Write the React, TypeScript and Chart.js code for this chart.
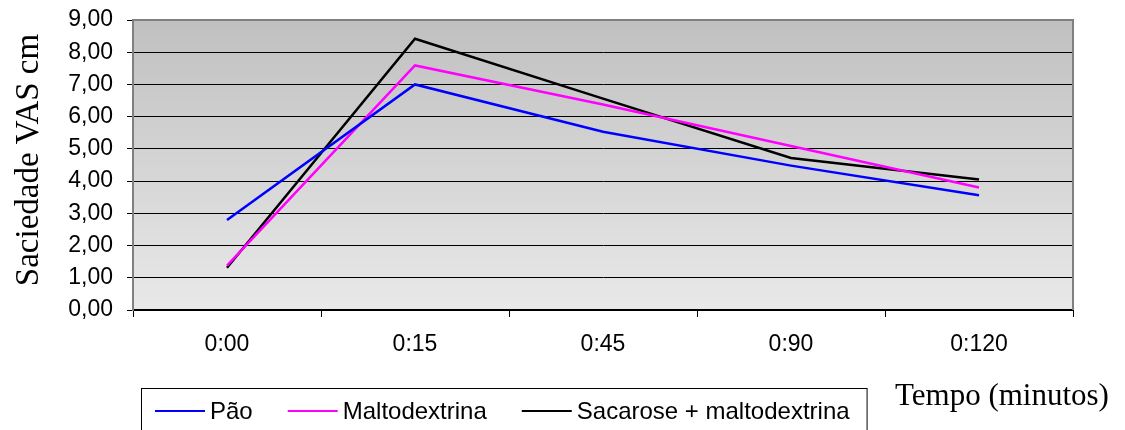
import React, { useEffect, useRef } from "react";
import { Chart, registerables } from "chart.js";

Chart.register(...registerables);

const categories = ["0:00", "0:15", "0:45", "0:90", "0:120"];
const paoValues = [2.79, 7.0, 5.53, 4.48, 3.56];
const maltoValues = [1.38, 7.59, 6.38, 5.09, 3.8];
const sacaroseValues = [1.31, 8.42, 6.56, 4.72, 4.05];
const seriesLabels = ["Pão", "Maltodextrina", "Sacarose + maltodextrina"];
const seriesColors = ["#0000ff", "#ff00ff", "#000000"];
const yTitle = "Saciedade VAS cm";
const xTitle = "Tempo (minutos)";

const SANS = "'Liberation Sans', Arial, sans-serif";
const SERIF = "'Liberation Serif', 'Times New Roman', serif";

const decorPlugin = {
  id: "decor",
  beforeDraw(chart: any) {
    const { ctx, chartArea } = chart;
    const { left, top, right, bottom } = chartArea;
    const g = ctx.createLinearGradient(0, top, 0, bottom);
    g.addColorStop(0, "#c0c0c0");
    g.addColorStop(1, "#e9e9e9");
    ctx.save();
    ctx.fillStyle = g;
    ctx.fillRect(left, top, right - left, bottom - top);
    ctx.restore();
  },
  beforeDatasetsDraw(chart: any) {
    const { ctx, chartArea } = chart;
    const { left, top, right, bottom } = chartArea;
    ctx.save();
    ctx.strokeStyle = "#808080";
    ctx.lineWidth = 2;
    ctx.beginPath();
    ctx.moveTo(left, top);
    ctx.lineTo(right, top);
    ctx.lineTo(right, bottom);
    ctx.stroke();
    ctx.restore();
  },
  afterDraw(chart: any) {
    const { ctx } = chart;
    ctx.save();
    ctx.fillStyle = "#000";
    ctx.font = `33px ${SERIF}`;
    ctx.translate(37.5, 160);
    ctx.rotate(-Math.PI / 2);
    ctx.textAlign = "center";
    ctx.textBaseline = "alphabetic";
    ctx.fillText(yTitle, 0, 0);
    ctx.restore();

    ctx.save();
    ctx.fillStyle = "#000";
    ctx.font = `31px ${SERIF}`;
    ctx.textAlign = "left";
    ctx.textBaseline = "alphabetic";
    ctx.fillText(xTitle, 895, 405);
    ctx.restore();

    ctx.save();
    ctx.font = `24px ${SANS}`;
    const boxLeft = 141;
    const boxTop = 388;
    const lineY = 411;
    let x = 155;
    chart.data.datasets.forEach((ds: any, i: number) => {
      ctx.strokeStyle = ds.borderColor;
      ctx.lineWidth = 2;
      ctx.beginPath();
      ctx.moveTo(x, lineY);
      ctx.lineTo(x + 50, lineY);
      ctx.stroke();
      x += 55;
      ctx.fillStyle = "#000";
      ctx.textAlign = "left";
      ctx.textBaseline = "middle";
      ctx.fillText(ds.label, x, lineY + 1);
      x += ctx.measureText(ds.label).width;
      if (i < chart.data.datasets.length - 1) x += 35;
    });
    const boxRight = x + 17;
    ctx.strokeStyle = "#000";
    ctx.lineWidth = 1;
    ctx.strokeRect(boxLeft + 0.5, boxTop + 0.5, boxRight - boxLeft, 60);
    ctx.restore();
  },
};

export default function App() {
  const canvasRef = useRef<HTMLCanvasElement | null>(null);

  useEffect(() => {
    const canvas = canvasRef.current;
    if (!canvas) return;
    const chart = new Chart(canvas, {
      type: "line",
      data: {
        labels: categories,
        datasets: [
          { label: seriesLabels[0], data: paoValues, borderColor: seriesColors[0], backgroundColor: seriesColors[0] },
          { label: seriesLabels[1], data: maltoValues, borderColor: seriesColors[1], backgroundColor: seriesColors[1] },
          { label: seriesLabels[2], data: sacaroseValues, borderColor: seriesColors[2], backgroundColor: seriesColors[2] },
        ].map((d) => ({ ...d, borderWidth: 2.5, pointRadius: 0, tension: 0, fill: false })),
      },
      options: {
        responsive: false,
        animation: false,
        devicePixelRatio: 1,
        layout: { padding: { top: 20, right: 52, left: 0, bottom: 70 } },
        plugins: {
          legend: { display: false },
          tooltip: { enabled: false },
        },
        scales: {
          x: {
            type: "category",
            offset: true,
            grid: {
              offset: true,
              drawOnChartArea: false,
              drawTicks: true,
              tickLength: 7,
              color: "#000",
              lineWidth: 1,
            },
            border: { display: true, color: "#000", width: 2 },
            ticks: {
              color: "#000",
              font: { family: SANS, size: 23 },
              padding: 14,
              maxRotation: 0,
              autoSkip: false,
            },
            afterFit: (s: any) => {
              s.height = 50;
              s.paddingLeft = 0;
              s.paddingRight = 0;
            },
          },
          y: {
            min: 0,
            max: 9,
            grid: {
              color: (c: any) =>
                c.tick && c.tick.value > 0 && c.tick.value < 9 ? "#000" : "rgba(0,0,0,0)",
              tickColor: "#000",
              tickLength: 6,
              lineWidth: 1,
            },
            border: { display: true, color: "#808080", width: 2 },
            ticks: {
              stepSize: 1,
              color: "#000",
              font: { family: SANS, size: 23 },
              padding: 14,
              callback: (v: any) => Number(v).toFixed(2).replace(".", ","),
            },
            afterFit: (s: any) => {
              s.width = 133;
              s.paddingTop = 0;
              s.paddingBottom = 0;
            },
          },
        },
      },
      plugins: [decorPlugin],
    });
    return () => chart.destroy();
  }, []);

  return (
    <div style={{ position: "absolute", left: 0, top: 0, width: 1125, height: 430, background: "#fff" }}>
      <canvas ref={canvasRef} width={1125} height={430} style={{ width: 1125, height: 430, display: "block" }} />
    </div>
  );
}
